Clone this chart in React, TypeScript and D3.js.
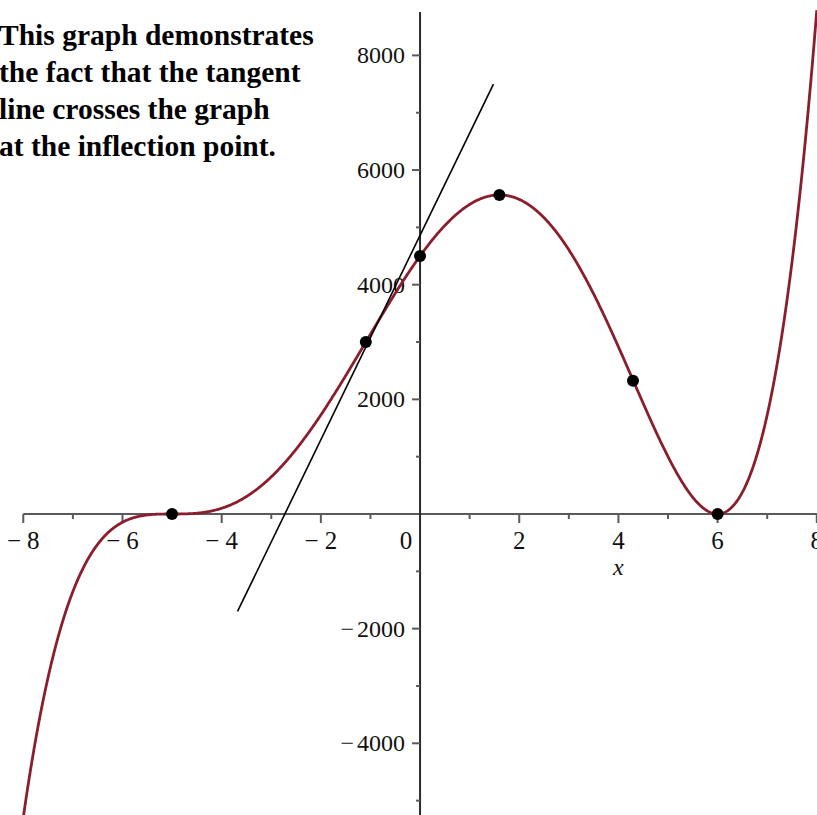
import React from "react";
import * as d3 from "d3";

const W = 817;
const H = 815;

// axis ticks
const xTickValues = [-8, -6, -4, -2, 2, 4, 6, 8];
const xMinorTicks = [-7, -5, -3, -1, 1, 3, 5, 7];
const yTickValues = [-4000, -2000, 2000, 4000, 6000, 8000];
const yMinorTicks = [-5000, -3000, -1000, 1000, 3000, 5000, 7000];

// f(x) = (x + 5)^3 (x - 6)^2, given by its roots and their multiplicities
const polyRoots = [-5, 6];
const polyMultiplicities = [3, 2];

// highlighted points: triple root, inflection, y-intercept, maximum, inflection, double root
const markedX = [-5, -1.094, 0, 1.6, 4.294, 6];
const markedY = [0, 2999, 4500, 5566, 2325, 0];

// tangent segment through the left inflection point
const tangentX = [-3.68, 1.48];
const tangentY = [-1700, 7500];

const noteLines = [
  "This graph demonstrates",
  "the fact that the tangent",
  "line crosses the graph",
  "at the inflection point.",
];

const f = (x: number) =>
  polyRoots.reduce((acc, r, i) => acc * Math.pow(x - r, polyMultiplicities[i]), 1);

export default function App() {
  const x = d3.scaleLinear().domain([-8, 8]).range([23.3, 816.8]);
  const y = d3.scaleLinear().domain([-4000, 8000]).range([743.3, 55.4]);

  const samples = d3.range(-8, 8.0001, 0.01).map((t) => [t, f(t)] as [number, number]);
  const curve = d3
    .line<[number, number]>()
    .x((d) => x(d[0]))
    .y((d) => y(d[1]))(samples);

  const x0 = x(0);
  const y0 = y(0);
  const serif = "'Liberation Serif', 'Times New Roman', serif";
  const axisColor = "#5a5a5a";

  const signed = (v: number, gap: number) =>
    v < 0 ? (
      <>
        <tspan>−</tspan>
        <tspan dx={gap}>{Math.abs(v)}</tspan>
      </>
    ) : (
      <tspan>{v}</tspan>
    );

  return (
    <svg
      width={W}
      height={H}
      style={{ position: "absolute", left: 0, top: 0, background: "#fff" }}
    >
      <defs>
        <clipPath id="plot-area">
          <rect x={0} y={10} width={W} height={H - 10} />
        </clipPath>
      </defs>

      {/* x axis */}
      <line x1={x(-8)} x2={W} y1={y0} y2={y0} stroke={axisColor} strokeWidth={2.2} />
      {xTickValues.map((v) => (
        <line key={"xt" + v} x1={x(v)} x2={x(v)} y1={y0} y2={y0 + 9} stroke={axisColor} strokeWidth={2} />
      ))}
      {xMinorTicks.map((v) => (
        <line key={"xm" + v} x1={x(v)} x2={x(v)} y1={y0} y2={y0 + 5} stroke={axisColor} strokeWidth={2} />
      ))}
      {xTickValues.map((v) => (
        <text key={"xl" + v} x={x(v)} y={549} textAnchor="middle" fontFamily={serif} fontSize={25} fill="#111">
          {signed(v, 6)}
        </text>
      ))}
      <text x={x0 - 14} y={549} textAnchor="middle" fontFamily={serif} fontSize={25} fill="#111">
        0
      </text>
      <text x={x(4)} y={575} textAnchor="middle" fontFamily={serif} fontStyle="italic" fontSize={24} fill="#111">
        x
      </text>

      {/* y axis */}
      <line x1={x0} x2={x0} y1={12} y2={H} stroke="#2a2a2a" strokeWidth={2} />
      {yTickValues.map((v) => (
        <line key={"yt" + v} x1={x0 - 8} x2={x0} y1={y(v)} y2={y(v)} stroke={axisColor} strokeWidth={2} />
      ))}
      {yMinorTicks.map((v) => (
        <line key={"ym" + v} x1={x0 - 4} x2={x0} y1={y(v)} y2={y(v)} stroke={axisColor} strokeWidth={2} />
      ))}
      {yTickValues.map((v) => (
        <text key={"yl" + v} x={405} y={y(v) + 8} textAnchor="end" fontFamily={serif} fontSize={24} fill="#111">
          {signed(v, 3)}
        </text>
      ))}

      {/* function graph */}
      <g clipPath="url(#plot-area)">
        <path d={curve ?? ""} fill="none" stroke="#8b1e2d" strokeWidth={2.8} />
      </g>

      {/* tangent line */}
      <line
        x1={x(tangentX[0])}
        y1={y(tangentY[0])}
        x2={x(tangentX[1])}
        y2={y(tangentY[1])}
        stroke="#000"
        strokeWidth={1.6}
      />

      {/* marked points */}
      {markedX.map((v, i) => (
        <circle key={"p" + i} cx={x(v)} cy={y(markedY[i])} r={6} fill="#000" />
      ))}

      {/* note */}
      {noteLines.map((line, i) => (
        <text key={"n" + i} x={-1} y={45 + i * 37} fontFamily={serif} fontWeight="bold" fontSize={29.5} fill="#000">
          {line}
        </text>
      ))}
    </svg>
  );
}
